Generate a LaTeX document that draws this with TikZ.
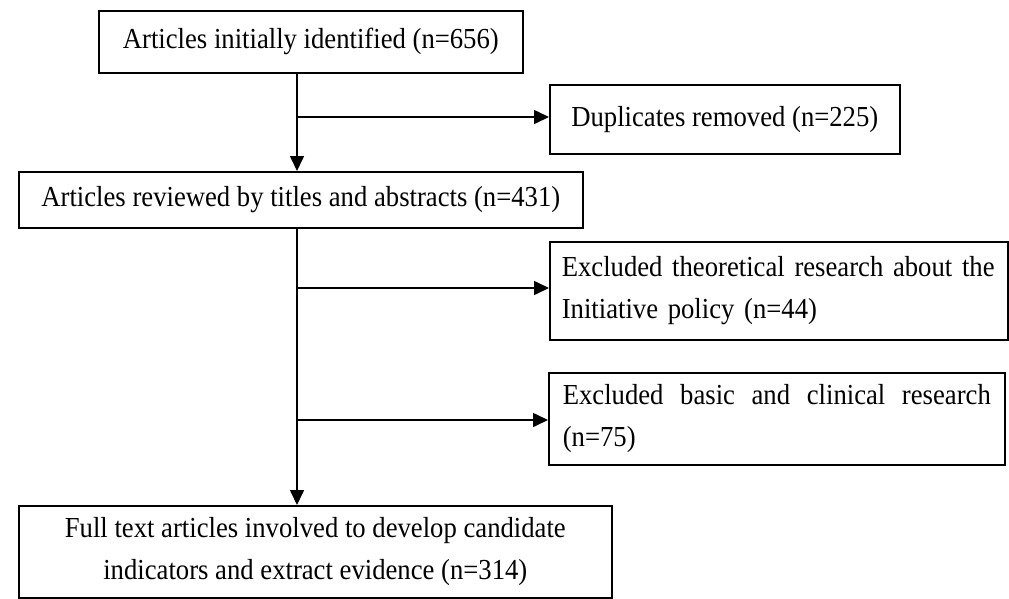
\documentclass[tikz,border=0pt]{standalone}
\usepackage{fontspec}
\setmainfont{Liberation Serif}[FakeStretch=0.92]
\usetikzlibrary{arrows.meta}
\begin{document}
\begin{tikzpicture}[x=1pt,y=-1pt,
  box/.style={draw, line width=1.6pt, inner sep=0pt, anchor=north west,
    font=\fontsize{29}{42}\selectfont},
  arr/.style={line width=1.6pt, -{Triangle[length=15pt,width=14pt]}}]
\useasboundingbox (0,0) rectangle (1009,598);
\node[box, minimum width=424pt, minimum height=62pt] (b1) at (98,10) {Articles initially identified (n=656)};
\node[box, minimum width=350pt, minimum height=69pt] (b2) at (549,84) {Duplicates removed (n=225)};
\node[box, minimum width=564pt, minimum height=56pt] (b3) at (18,171) {Articles reviewed by titles and abstracts (n=431)};
\node[box, minimum width=458pt, minimum height=98pt, text width=434pt, align=left, inner xsep=12pt] (b4) at (549,241) {\mbox{Excluded theoretical research about the}\\Initiative policy (n=44)};
\node[box, minimum width=456pt, minimum height=92pt, text width=428pt, align=justify, inner xsep=14pt] (b5) at (548,372) {Excluded basic and clinical research (n=75)};
\node[box, minimum width=593pt, minimum height=92pt, align=center] (b6) at (18,505) {Full text articles involved to develop candidate\\indicators and extract evidence (n=314)};
\coordinate (j1) at (297,117);
\coordinate (j2) at (297,288);
\coordinate (j3) at (297,420);
\draw[arr] (b1.south -| j1) -- (b3.north -| j1);
\draw[arr] (j1) -- (b2.west |- j1);
\draw[arr] (b3.south -| j2) -- (b6.north -| j2);
\draw[arr] (j2) -- (b4.west |- j2);
\draw[arr] (j3) -- (b5.west |- j3);
\end{tikzpicture}
\end{document}
